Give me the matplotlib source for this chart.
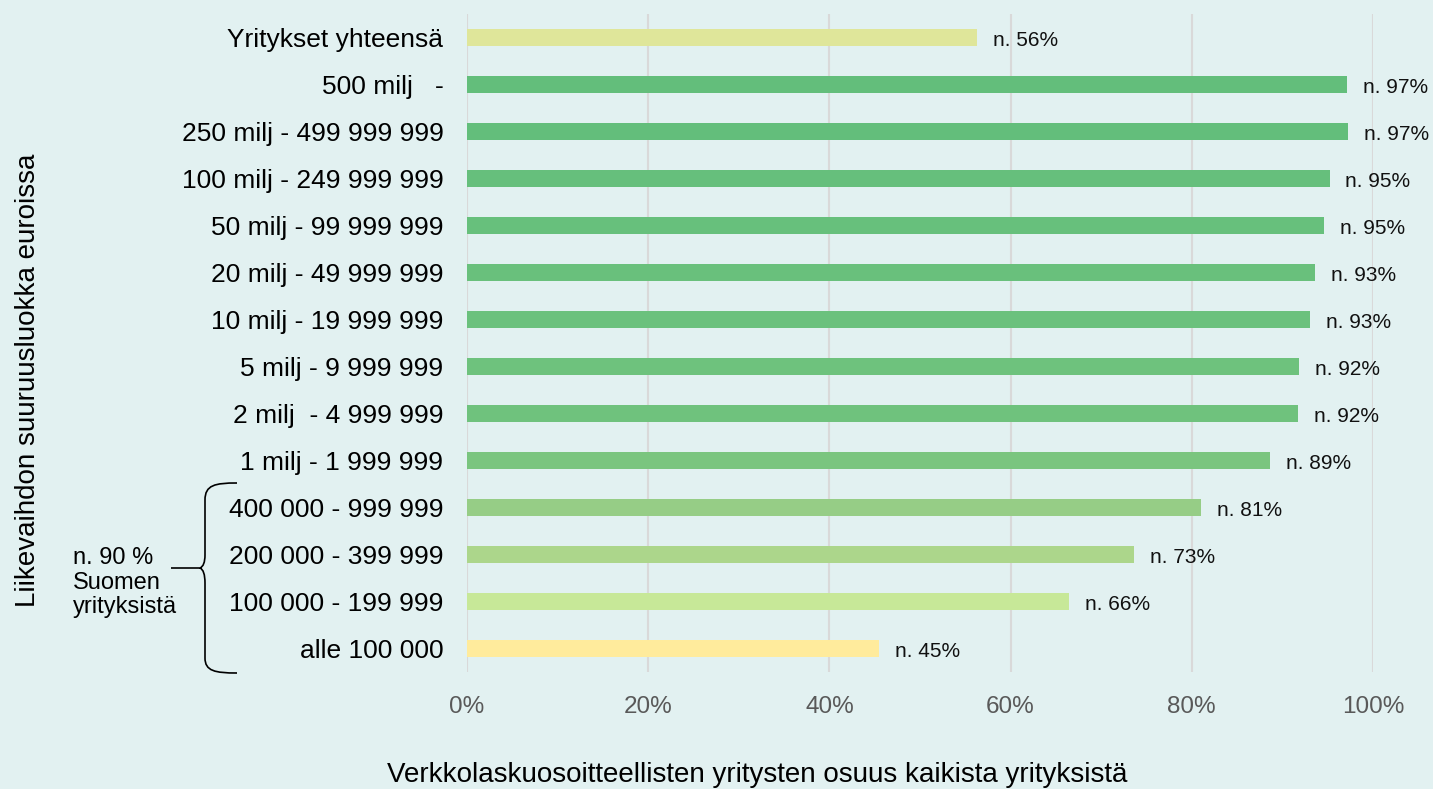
import numpy as np
import matplotlib
matplotlib.use('Agg')
from matplotlib import pyplot as plt
from matplotlib.path import Path
from matplotlib.patches import PathPatch
from matplotlib.transforms import Affine2D
from matplotlib.ticker import PercentFormatter

plt.rcParams['font.family'] = ['Liberation Sans', 'DejaVu Sans']

categories = ['Yritykset yhteensä', '500 milj   -', '250 milj - 499 999 999',
              '100 milj - 249 999 999', '50 milj - 99 999 999', '20 milj - 49 999 999',
              '10 milj - 19 999 999', '5 milj - 9 999 999', '2 milj  - 4 999 999',
              '1 milj - 1 999 999', '400 000 - 999 999', '200 000 - 399 999',
              '100 000 - 199 999', 'alle 100 000']
values = [56.3, 97.1, 97.2, 95.2, 94.6, 93.6, 93.0, 91.8, 91.7, 88.6, 81.0, 73.6, 66.4, 45.5]
labels = ['n. 56%', 'n. 97%', 'n. 97%', 'n. 95%', 'n. 95%', 'n. 93%', 'n. 93%',
          'n. 92%', 'n. 92%', 'n. 89%', 'n. 81%', 'n. 73%', 'n. 66%', 'n. 45%']
colors = ['#dfe69a', '#63be7b', '#63be7b', '#66bf7c', '#67c07c', '#69c07c', '#6bc17d',
          '#6ec27d', '#6fc27d', '#7ac57f', '#96cd86', '#acd68b', '#c7e898', '#ffeb9c']

bg = '#e2f1f1'
W, H = 1433, 789
fig = plt.figure(figsize=(W / 100, H / 100), dpi=100, facecolor=bg)
ax = fig.add_axes([467 / W, 1 - 672 / H, 906 / W, 658 / H], facecolor=bg)

y = np.arange(len(categories))
ax.barh(y, values, height=0.36, color=colors, zorder=3)
for yi, v, lab in zip(y, values, labels):
    ax.annotate(lab, (v, yi), xytext=(11.5, -2), textcoords='offset points',
                va='center', ha='left', fontsize=15, color='#111111')

ax.set_xlim(0, 100)
ax.set_ylim(len(categories) - 0.5, -0.5)
ax.set_yticks(y)
ax.set_yticklabels(categories, fontsize=19)
ax.set_xticks(np.arange(0, 101, 20))
ax.xaxis.set_major_formatter(PercentFormatter(decimals=0))
ax.tick_params(axis='x', length=0, pad=17, labelsize=17.5, labelcolor='#595959')
ax.tick_params(axis='y', length=0, pad=17)
ax.grid(axis='x', color='#d9d9d9', lw=1.5, zorder=0)
for s in ax.spines.values():
    s.set_visible(False)

fig.text(757 / W, 1 - 775 / H, 'Verkkolaskuosoitteellisten yritysten osuus kaikista yrityksistä',
         ha='center', va='center', fontsize=20)
fig.text(28 / W, 1 - 380 / H, 'Liikevaihdon suuruusluokka euroissa', rotation=90,
         ha='center', va='center', fontsize=20)

# curly brace in pixel coords (origin top-left)
px = Affine2D().scale(1 / W, -1 / H).translate(0, 1) + fig.transFigure
verts = [(237, 483), (215, 483), (205, 485), (205, 500),
         (205, 555),
         (205, 566), (200, 568), (171, 568),
         (200, 568), (205, 570), (205, 583),
         (205, 658),
         (205, 671), (215, 673), (237, 673)]
codes = [Path.MOVETO, Path.CURVE4, Path.CURVE4, Path.CURVE4,
         Path.LINETO,
         Path.CURVE3, Path.CURVE3, Path.LINETO,
         Path.MOVETO, Path.CURVE3, Path.CURVE3,
         Path.LINETO,
         Path.CURVE4, Path.CURVE4, Path.CURVE4]
fig.add_artist(PathPatch(Path(verts, codes), transform=px, fill=False, lw=1.2, color='black'))
fig.text(73 / W, 1 - 547 / H, 'n. 90 %\nSuomen\nyrityksistä', ha='left', va='top',
         fontsize=17, linespacing=1.15)

plt.savefig('out.png', dpi=100, facecolor=bg)
